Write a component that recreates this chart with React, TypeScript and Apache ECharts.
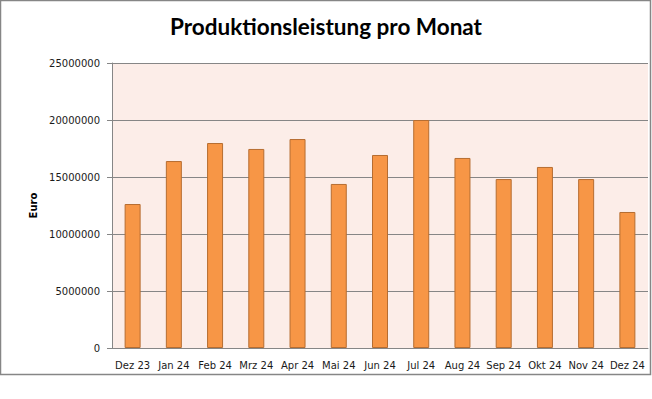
import React, { useEffect, useRef } from "react";
import * as echarts from "echarts";

const categories = ["Dez 23", "Jan 24", "Feb 24", "Mrz 24", "Apr 24", "Mai 24", "Jun 24", "Jul 24", "Aug 24", "Sep 24", "Okt 24", "Nov 24", "Dez 24"];
const values = [12630000, 16400000, 17980000, 17460000, 18330000, 14390000, 16930000, 20000000, 16670000, 14820000, 15880000, 14820000, 11930000];
const titleText = "Produktionsleistung pro Monat";
const yAxisName = "Euro";

export default function App() {
  const ref = useRef<HTMLDivElement>(null);
  useEffect(() => {
    document.body.style.margin = "0";
    const chart = echarts.init(ref.current!, null, { renderer: "svg" });
    chart.setOption({
      animation: false,
      backgroundColor: "#ffffff",
      title: {
        text: titleText,
        left: "center",
        top: 10,
        textStyle: { fontFamily: "Lato", fontWeight: "bold", fontSize: 22.5, color: "#000000" },
      },
      graphic: [
        {
          type: "rect",
          shape: { x: 0.5, y: 0.5, width: 650, height: 374 },
          style: { fill: "none", stroke: "#868686", lineWidth: 1.5 },
          silent: true,
        },
      ],
      grid: {
        left: 112,
        top: 63,
        right: 4,
        bottom: 51,
        show: true,
        backgroundColor: "#FCEDE8",
        borderWidth: 0,
      },
      xAxis: {
        type: "category",
        data: categories,
        axisLine: { show: true, lineStyle: { color: "#868686", width: 1 } },
        axisTick: { show: false },
        axisLabel: { fontFamily: "DejaVu Sans", fontSize: 10, color: "#1a1a1a", margin: 12, interval: 0 },
      },
      yAxis: {
        type: "value",
        min: 0,
        max: 25000000,
        interval: 5000000,
        name: yAxisName,
        nameLocation: "middle",
        nameGap: 70,
        nameTextStyle: { fontFamily: "DejaVu Sans", fontWeight: "bold", fontSize: 10, color: "#000000" },
        axisLine: { show: true, lineStyle: { color: "#868686", width: 1 } },
        axisTick: { show: true, length: 5, lineStyle: { color: "#868686" } },
        axisLabel: {
          fontFamily: "DejaVu Sans",
          fontSize: 10,
          color: "#1a1a1a",
          margin: 12,
          formatter: (v: number) => String(v),
        },
        splitLine: { show: true, lineStyle: { color: "#868686", width: 1 } },
      },
      series: [
        {
          type: "bar",
          data: values,
          barWidth: 16,
          itemStyle: { color: "#F79646", borderColor: "#B66D31", borderWidth: 1 },
        },
      ],
    });
    return () => chart.dispose();
  }, []);
  return <div ref={ref} style={{ width: 652, height: 399 }} />;
}
